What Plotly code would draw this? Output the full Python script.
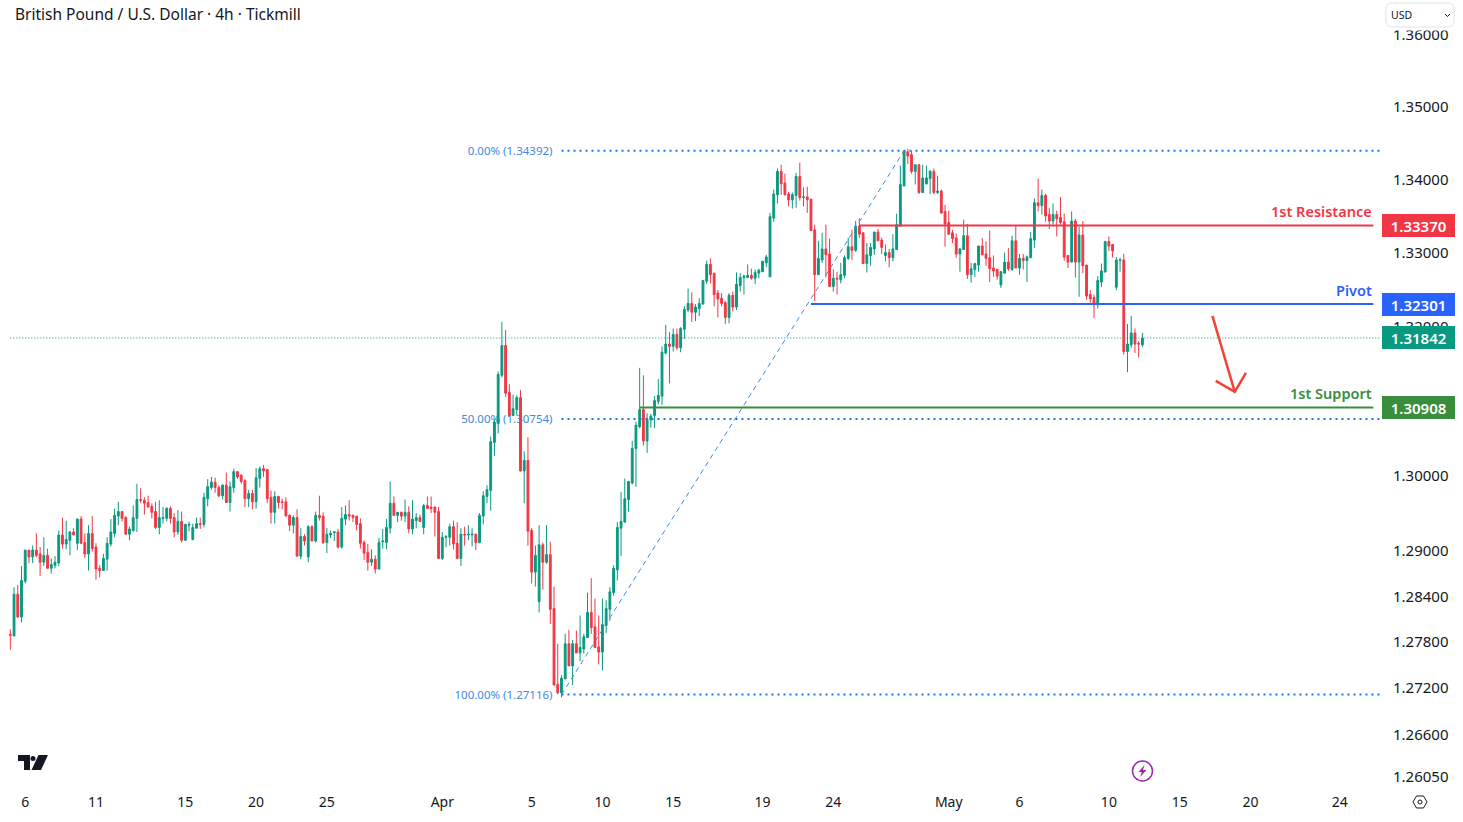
import math
import plotly.graph_objects as go

title = "British Pound / U.S. Dollar · 4h · Tickmill"
opens = [
1.2790,1.2788,1.2843,1.2813,1.2860,1.2901,1.2892,1.2901,1.2896,1.2885,
1.2894,1.2877,1.2881,1.2884,1.2921,1.2909,1.2914,1.2925,1.2910,1.2942,
1.2911,1.2896,1.2923,1.2905,1.2877,1.2874,1.2889,1.2909,1.2923,1.2946,
1.2952,1.2944,1.2922,1.2927,1.2943,1.2968,1.2967,1.2964,1.2959,1.2952,
1.2931,1.2943,1.2943,1.2956,1.2944,1.2925,1.2939,1.2914,1.2934,1.2915,
1.2930,1.2936,1.2935,1.2969,1.2984,1.2991,1.2984,1.2973,1.2987,1.2964,
1.2984,1.3005,1.3000,1.2993,1.2969,1.2976,1.2965,1.2996,1.3009,1.3008,
1.2971,1.2951,1.2972,1.2965,1.2965,1.2947,1.2934,1.2944,1.2893,1.2919,
1.2892,1.2932,1.2913,1.2947,1.2946,1.2911,1.2921,1.2924,1.2925,1.2905,
1.2942,1.2948,1.2947,1.2946,1.2936,1.2911,1.2898,1.2885,1.2889,1.2876,
1.2912,1.2911,1.2930,1.2963,1.2947,1.2951,1.2946,1.2951,1.2929,1.2940,
1.2944,1.2931,1.2960,1.2958,1.2958,1.2952,1.2890,1.2918,1.2918,1.2932,
1.2910,1.2890,1.2922,1.2921,1.2921,1.2922,1.2911,1.2946,1.2972,1.2980,
1.3044,1.3069,1.3134,1.3174,1.3111,1.3080,1.3088,1.3104,1.3006,1.3020,
1.2927,1.2872,1.2833,1.2908,1.2885,1.2895,1.2824,1.2725,1.2714,1.2732,
1.2778,1.2749,1.2778,1.2766,1.2771,1.2786,1.2819,1.2800,1.2774,1.2767,
1.2802,1.2823,1.2845,1.2875,1.2930,1.2938,1.2968,1.2990,1.3036,1.3065,
1.3088,1.3046,1.3074,1.3080,1.3099,1.3106,1.3164,1.3176,1.3173,1.3189,
1.3171,1.3196,1.3222,1.3231,1.3219,1.3224,1.3230,1.3261,1.3284,1.3272,
1.3245,1.3238,1.3232,1.3212,1.3242,1.3226,1.3255,1.3266,1.3266,1.3269,
1.3265,1.3272,1.3274,1.3286,1.3267,1.3347,1.3379,1.3411,1.3395,1.3380,
1.3372,1.3378,1.3404,1.3375,1.3376,1.3373,1.3331,1.3270,1.3290,1.3305,
1.3298,1.3254,1.3265,1.3263,1.3269,1.3292,1.3308,1.3303,1.3336,1.3327,
1.3285,1.3296,1.3305,1.3328,1.3317,1.3296,1.3300,1.3293,1.3304,1.3336,
1.3391,1.3438,1.3434,1.3411,1.3420,1.3382,1.3394,1.3401,1.3411,1.3382,
1.3384,1.3356,1.3341,1.3327,1.3320,1.3298,1.3304,1.3323,1.3270,1.3277,
1.3283,1.3309,1.3298,1.3293,1.3279,1.3277,1.3256,1.3272,1.3287,1.3277,
1.3316,1.3279,1.3292,1.3289,1.3293,1.3317,1.3368,1.3364,1.3378,1.3352,
1.3343,1.3352,1.3348,1.3342,1.3296,1.3287,1.3343,1.3287,1.3324,1.3283,
1.3243,1.3239,1.3229,1.3260,1.3274,1.3315,1.3311,1.3253,1.3289,1.3290,
1.3166,1.3175,1.3191,1.3177,1.3175]
highs = [
1.2797,1.2852,1.2855,1.2880,1.2901,1.2901,1.2907,1.2923,1.2905,1.2918,
1.2903,1.2890,1.2893,1.2927,1.2944,1.2940,1.2926,1.2930,1.2943,1.2946,
1.2923,1.2934,1.2946,1.2910,1.2881,1.2896,1.2918,1.2942,1.2956,1.2965,
1.2952,1.2946,1.2932,1.2960,1.2989,1.2983,1.2971,1.2973,1.2963,1.2965,
1.2967,1.2958,1.2958,1.2959,1.2950,1.2954,1.2952,1.2936,1.2939,1.2936,
1.2944,1.2944,1.2977,1.2995,1.2998,1.2997,1.2987,1.2988,1.3004,1.2992,
1.3009,1.3006,1.3002,1.2995,1.2981,1.2981,1.3010,1.3012,1.3014,1.3008,
1.2980,1.2979,1.2973,1.2969,1.2971,1.2948,1.2947,1.2955,1.2930,1.2922,
1.2934,1.2934,1.2952,1.2973,1.2951,1.2930,1.2927,1.2926,1.2929,1.2958,
1.2960,1.2967,1.2948,1.2946,1.2943,1.2914,1.2909,1.2902,1.2894,1.2917,
1.2929,1.2942,1.2992,1.2972,1.2951,1.2952,1.2968,1.2959,1.2967,1.2950,
1.2948,1.2962,1.2972,1.2972,1.2959,1.2958,1.2925,1.2921,1.2936,1.2940,
1.2938,1.2930,1.2932,1.2934,1.2930,1.2923,1.2950,1.2979,1.2987,1.3052,
1.3075,1.3139,1.3206,1.3195,1.3122,1.3108,1.3107,1.3114,1.3032,1.3051,
1.2930,1.2907,1.2934,1.2911,1.2934,1.2912,1.2853,1.2778,1.2737,1.2791,
1.2796,1.2783,1.2795,1.2815,1.2791,1.2845,1.2864,1.2837,1.2815,1.2837,
1.2835,1.2852,1.2881,1.2938,1.2978,1.2996,1.2992,1.3046,1.3072,1.3144,
1.3134,1.3083,1.3082,1.3106,1.3129,1.3173,1.3202,1.3192,1.3197,1.3197,
1.3199,1.3227,1.3251,1.3246,1.3230,1.3238,1.3262,1.3289,1.3292,1.3272,
1.3249,1.3245,1.3234,1.3245,1.3247,1.3273,1.3272,1.3270,1.3284,1.3278,
1.3277,1.3278,1.3289,1.3297,1.3354,1.3386,1.3415,1.3420,1.3408,1.3383,
1.3382,1.3409,1.3423,1.3389,1.3390,1.3373,1.3338,1.3316,1.3327,1.3338,
1.3319,1.3277,1.3274,1.3286,1.3296,1.3320,1.3331,1.3343,1.3347,1.3327,
1.3313,1.3313,1.3328,1.3332,1.3320,1.3311,1.3305,1.3325,1.3353,1.3419,
1.3439,1.3442,1.3439,1.3421,1.3421,1.3420,1.3419,1.3413,1.3415,1.3405,
1.3386,1.3365,1.3357,1.3331,1.3326,1.3306,1.3345,1.3339,1.3286,1.3286,
1.3309,1.3320,1.3315,1.3330,1.3296,1.3278,1.3275,1.3300,1.3306,1.3323,
1.3337,1.3298,1.3298,1.3296,1.3328,1.3374,1.3401,1.3386,1.3380,1.3361,
1.3367,1.3357,1.3376,1.3353,1.3297,1.3356,1.3346,1.3335,1.3343,1.3283,
1.3249,1.3243,1.3268,1.3285,1.3316,1.3322,1.3311,1.3294,1.3293,1.3298,
1.3203,1.3214,1.3197,1.3180,1.3191]
lows = [
1.2770,1.2788,1.2812,1.2806,1.2857,1.2884,1.2884,1.2892,1.2867,1.2880,
1.2877,1.2870,1.2877,1.2880,1.2903,1.2902,1.2894,1.2921,1.2901,1.2910,
1.2890,1.2874,1.2899,1.2862,1.2865,1.2874,1.2874,1.2906,1.2918,1.2934,
1.2939,1.2922,1.2914,1.2925,1.2925,1.2963,1.2948,1.2958,1.2943,1.2929,
1.2922,1.2936,1.2939,1.2936,1.2918,1.2921,1.2911,1.2913,1.2926,1.2914,
1.2930,1.2929,1.2931,1.2959,1.2981,1.2977,1.2971,1.2968,1.2964,1.2952,
1.2977,1.2995,1.2989,1.2958,1.2958,1.2955,1.2956,1.2984,1.2998,1.2963,
1.2936,1.2936,1.2956,1.2955,1.2946,1.2926,1.2923,1.2893,1.2889,1.2907,
1.2885,1.2913,1.2911,1.2940,1.2909,1.2897,1.2917,1.2913,1.2903,1.2903,
1.2934,1.2940,1.2938,1.2927,1.2903,1.2888,1.2874,1.2880,1.2870,1.2876,
1.2903,1.2902,1.2923,1.2946,1.2938,1.2940,1.2938,1.2923,1.2922,1.2930,
1.2938,1.2922,1.2956,1.2950,1.2919,1.2890,1.2888,1.2905,1.2907,1.2902,
1.2890,1.2880,1.2907,1.2914,1.2906,1.2901,1.2910,1.2935,1.2963,1.2953,
1.3026,1.3056,1.3131,1.3105,1.3079,1.3079,1.3080,1.3005,1.2963,1.2907,
1.2857,1.2853,1.2819,1.2849,1.2883,1.2804,1.2724,1.2712,1.2708,1.2732,
1.2749,1.2724,1.2766,1.2755,1.2765,1.2786,1.2791,1.2773,1.2751,1.2743,
1.2792,1.2808,1.2841,1.2861,1.2893,1.2938,1.2952,1.2988,1.2985,1.3063,
1.3040,1.3030,1.3064,1.3063,1.3095,1.3094,1.3162,1.3123,1.3166,1.3168,
1.3165,1.3183,1.3219,1.3206,1.3207,1.3214,1.3230,1.3257,1.3258,1.3227,
1.3212,1.3227,1.3203,1.3204,1.3220,1.3222,1.3247,1.3243,1.3266,1.3263,
1.3257,1.3265,1.3274,1.3280,1.3267,1.3342,1.3367,1.3379,1.3378,1.3363,
1.3360,1.3361,1.3371,1.3363,1.3354,1.3330,1.3234,1.3270,1.3286,1.3266,
1.3254,1.3247,1.3243,1.3258,1.3265,1.3290,1.3290,1.3301,1.3320,1.3285,
1.3273,1.3282,1.3297,1.3316,1.3298,1.3288,1.3280,1.3288,1.3304,1.3336,
1.3391,1.3421,1.3408,1.3393,1.3380,1.3382,1.3393,1.3380,1.3380,1.3380,
1.3353,1.3308,1.3325,1.3313,1.3293,1.3274,1.3304,1.3264,1.3259,1.3267,
1.3274,1.3297,1.3282,1.3260,1.3267,1.3263,1.3252,1.3272,1.3275,1.3275,
1.3279,1.3270,1.3277,1.3260,1.3293,1.3306,1.3356,1.3352,1.3342,1.3332,
1.3338,1.3322,1.3338,1.3289,1.3279,1.3287,1.3266,1.3240,1.3272,1.3236,
1.3232,1.3211,1.3224,1.3253,1.3272,1.3302,1.3293,1.3249,1.3274,1.3162,
1.3138,1.3171,1.3164,1.3158,1.3172]
closes = [
1.2789,1.2843,1.2813,1.2861,1.2901,1.2892,1.2901,1.2894,1.2885,1.2894,
1.2877,1.2882,1.2885,1.2921,1.2909,1.2915,1.2925,1.2921,1.2942,1.2910,
1.2896,1.2923,1.2903,1.2876,1.2874,1.2890,1.2910,1.2925,1.2947,1.2952,
1.2943,1.2922,1.2929,1.2944,1.2968,1.2967,1.2963,1.2958,1.2951,1.2931,
1.2944,1.2944,1.2956,1.2943,1.2925,1.2939,1.2914,1.2935,1.2935,1.2931,
1.2936,1.2935,1.2971,1.2985,1.2991,1.2984,1.2973,1.2987,1.2964,1.2985,
1.3005,1.2998,1.2992,1.2969,1.2976,1.2965,1.2997,1.3009,1.3006,1.2969,
1.2951,1.2972,1.2964,1.2964,1.2946,1.2934,1.2944,1.2893,1.2919,1.2913,
1.2932,1.2913,1.2947,1.2944,1.2911,1.2922,1.2923,1.2925,1.2905,1.2943,
1.2948,1.2946,1.2944,1.2935,1.2910,1.2897,1.2885,1.2889,1.2876,1.2911,
1.2913,1.2931,1.2963,1.2947,1.2951,1.2946,1.2951,1.2929,1.2942,1.2944,
1.2939,1.2960,1.2956,1.2956,1.2951,1.2890,1.2918,1.2919,1.2932,1.2909,
1.2890,1.2922,1.2921,1.2922,1.2922,1.2911,1.2947,1.2973,1.2981,1.3045,
1.3071,1.3135,1.3174,1.3110,1.3080,1.3089,1.3104,1.3006,1.3020,1.2926,
1.2872,1.2894,1.2908,1.2885,1.2895,1.2823,1.2724,1.2714,1.2733,1.2778,
1.2749,1.2778,1.2766,1.2773,1.2787,1.2819,1.2799,1.2773,1.2767,1.2803,
1.2824,1.2846,1.2877,1.2931,1.2939,1.2969,1.2992,1.3036,1.3067,1.3088,
1.3046,1.3075,1.3079,1.3100,1.3107,1.3165,1.3176,1.3173,1.3189,1.3171,
1.3197,1.3223,1.3231,1.3219,1.3226,1.3231,1.3262,1.3284,1.3270,1.3243,
1.3237,1.3231,1.3212,1.3242,1.3226,1.3257,1.3266,1.3268,1.3269,1.3265,
1.3273,1.3276,1.3288,1.3294,1.3349,1.3380,1.3411,1.3394,1.3379,1.3372,
1.3379,1.3404,1.3375,1.3376,1.3372,1.3330,1.3270,1.3292,1.3305,1.3297,
1.3254,1.3265,1.3264,1.3270,1.3293,1.3308,1.3303,1.3336,1.3325,1.3285,
1.3297,1.3307,1.3328,1.3316,1.3307,1.3300,1.3293,1.3305,1.3338,1.3393,
1.3439,1.3432,1.3411,1.3420,1.3382,1.3402,1.3402,1.3411,1.3382,1.3384,
1.3354,1.3339,1.3325,1.3319,1.3298,1.3305,1.3323,1.3270,1.3278,1.3285,
1.3309,1.3297,1.3292,1.3278,1.3275,1.3268,1.3274,1.3287,1.3278,1.3316,
1.3279,1.3292,1.3289,1.3294,1.3319,1.3368,1.3364,1.3378,1.3350,1.3343,
1.3352,1.3346,1.3341,1.3294,1.3287,1.3343,1.3287,1.3324,1.3282,1.3241,
1.3237,1.3229,1.3262,1.3275,1.3315,1.3309,1.3302,1.3290,1.3290,1.3166,
1.3176,1.3191,1.3176,1.3176,1.31842]
x_tick_positions = [4, 23, 47, 66, 85, 116, 140, 159, 178, 202, 221, 252, 271, 295, 314, 333, 357]
x_tick_labels = ["6", "11", "15", "20", "25", "Apr", "5", "10", "15", "19", "24", "May", "6", "10", "15", "20", "24"]
y_tick_values = [1.36, 1.35, 1.34, 1.33, 1.32, 1.31, 1.30, 1.29, 1.284, 1.278, 1.272, 1.266, 1.2605]
fib_levels = [1.34392, 1.30754, 1.27116]
fib_names = ["0.00%", "50.00%", "100.00%"]
fib_start = 148
fib_peak = 240
resistance, pivot, support, last_price = 1.33370, 1.32301, 1.30908, 1.31842
resistance_start, pivot_start, support_start = 228, 215, 169
level_end = 366
arrow_x = [322.8, 328.8]
arrow_y = [1.32141, 1.31117]
arrow_head_x = [323.7, 328.8, 331.8]
arrow_head_y = [1.31265, 1.31117, 1.31373]

GREEN, RED, BLUE, DKGREEN = "#089981", "#F23645", "#2962FF", "#388E3C"
FIB = "#1E78DC"
FONT = "Noto Sans"
W, H, PW, PH = 1463, 822, 1380, 792
X0, X1 = -2.77, 367.8
Y0, Y1 = 0.09987, 0.13508
indices = list(range(len(opens)))


def px(x):
    return x / PW


def py(y):
    return 1 - y / PH


def poly(points, close=True):
    s = "M" + " L".join(f"{px(a):.5f},{py(b):.5f}" for a, b in points)
    return s + (" Z" if close else "")


fig = go.Figure()
fig.add_trace(go.Candlestick(
    x=indices, open=opens, high=highs, low=lows, close=closes,
    increasing=dict(line=dict(color=GREEN, width=1), fillcolor=GREEN),
    decreasing=dict(line=dict(color=RED, width=1), fillcolor=RED),
    whiskerwidth=0, hoverinfo="skip", showlegend=False))


def line(xs, ys, color, width=1.5, dash="solid"):
    fig.add_trace(go.Scatter(x=xs, y=ys, mode="lines", showlegend=False, hoverinfo="skip",
                             line=dict(color=color, width=width, dash=dash)))


line([0, X1], [last_price, last_price], GREEN, 1, "1px 2px")
for lv in fib_levels:
    line([fib_start, X1], [lv, lv], FIB, 2, "2px 4px")
line([fib_start, fib_peak], [fib_levels[2], fib_levels[0]], "#3D8BE0", 1, "5px 4px")
line([resistance_start, level_end], [resistance, resistance], RED, 2)
line([pivot_start, level_end], [pivot, pivot], BLUE, 2)
line([support_start, level_end], [support, support], DKGREEN, 2)
line(arrow_x, arrow_y, "#F44336", 2.5)
line(arrow_head_x, arrow_head_y, "#F44336", 2.5)

shapes = []
for lv, nm in zip(fib_levels, fib_names):
    shapes.append(dict(type="line", xref="x", yref="y", x0=fib_start - 30, x1=fib_start - 2.4, y0=lv, y1=lv,
                       layer="below", line=dict(width=0, color="rgba(0,0,0,0)"),
                       label=dict(text=f"{nm} ({lv:.5f})", textposition="end", xanchor="right", yanchor="middle",
                                  padding=0, font=dict(family=FONT, size=11.5, color="#3F88DE"))))
# white band under the currency box
shapes.append(dict(type="rect", xref="paper", yref="paper", layer="above", fillcolor="white", line=dict(width=0),
                   x0=px(1384), x1=px(1460), y0=py(30.5), y1=py(0)))
# USD box
r = 6
bx0, bx1, by0, by1 = 1386, 1454, 3, 27
shapes.append(dict(type="path", xref="paper", yref="paper", layer="above", fillcolor="white",
                   line=dict(color="#E0E3EB", width=1),
                   path=(f"M{px(bx0+r):.5f},{py(by0):.5f} L{px(bx1-r):.5f},{py(by0):.5f} "
                         f"Q{px(bx1):.5f},{py(by0):.5f} {px(bx1):.5f},{py(by0+r):.5f} "
                         f"L{px(bx1):.5f},{py(by1-r):.5f} Q{px(bx1):.5f},{py(by1):.5f} {px(bx1-r):.5f},{py(by1):.5f} "
                         f"L{px(bx0+r):.5f},{py(by1):.5f} Q{px(bx0):.5f},{py(by1):.5f} {px(bx0):.5f},{py(by1-r):.5f} "
                         f"L{px(bx0):.5f},{py(by0+r):.5f} Q{px(bx0):.5f},{py(by0):.5f} {px(bx0+r):.5f},{py(by0):.5f} Z")))
shapes.append(dict(type="path", xref="paper", yref="paper", layer="above", line=dict(color="#131722", width=1),
                   path=poly([(1445, 14), (1447.5, 16.5), (1450, 14)], False)))
# logo
for pts in ([(18, 755), (30, 755), (30, 770), (24, 770), (24, 761), (18, 761)],
            [(38.5, 755), (48, 755), (41, 770), (31.5, 770)]):
    shapes.append(dict(type="path", xref="paper", yref="paper", layer="above", fillcolor="#131722",
                       line=dict(width=0), path=poly(pts)))
shapes.append(dict(type="circle", xref="paper", yref="paper", layer="above", fillcolor="#131722", line=dict(width=0),
                   x0=px(30.5), x1=px(35.5), y0=py(761), y1=py(756)))
# bolt icon
shapes.append(dict(type="circle", xref="paper", yref="paper", layer="above", line=dict(color="#9C27B0", width=1.5),
                   fillcolor="white", x0=px(1132.5), x1=px(1152.5), y0=py(781), y1=py(761)))
shapes.append(dict(type="path", xref="paper", yref="paper", layer="above", fillcolor="#9C27B0", line=dict(width=0),
                   path=poly([(1144.5, 765), (1138.5, 772), (1141.8, 772), (1140.2, 777), (1146.5, 770), (1143, 770)])))
# settings icon
shapes.append(dict(type="path", xref="paper", yref="paper", layer="above", line=dict(color="#131722", width=1),
                   path=poly([(1413, 802), (1416.5, 796), (1423.5, 796), (1427, 802), (1423.5, 808), (1416.5, 808)])))
shapes.append(dict(type="circle", xref="paper", yref="paper", layer="above", line=dict(color="#131722", width=1),
                   x0=px(1418), x1=px(1422), y0=py(804), y1=py(800)))

anns = [dict(text=title, xref="paper", yref="paper", x=px(14), y=py(14), xanchor="left", yanchor="middle",
             showarrow=False, borderpad=0, font=dict(family=FONT, size=15.5, color="#131722")),
        dict(text="USD", xref="paper", yref="paper", x=px(1388.5), y=py(15), xanchor="left", yanchor="middle",
             showarrow=False, font=dict(family=FONT, size=10.5, color="#131722"))]
for val, col in [(resistance, RED), (pivot, BLUE), (last_price, GREEN), (support, DKGREEN)]:
    anns.append(dict(text=val and f"{val:.5f}", xref="paper", yref="y", x=px(1418.5), y=math.log10(val),
                     xanchor="center", yanchor="middle", showarrow=False, width=73, height=23, bgcolor=col,
                     borderpad=0, borderwidth=0, font=dict(family=FONT, size=15, weight=600, color="white")))
for txt, val, col in [("1st Resistance", resistance, RED), ("Pivot", pivot, BLUE), ("1st Support", support, DKGREEN)]:
    anns.append(dict(text=txt, xref="x", yref="y", x=level_end, y=math.log10(val), xanchor="right",
                     yanchor="bottom", yshift=3, showarrow=False, borderpad=0,
                     font=dict(family=FONT, size=14.5, weight=600, color=col)))

fig.update_layout(
    width=W, height=H, paper_bgcolor="white", plot_bgcolor="white", showlegend=False,
    margin=dict(l=0, r=W - PW, t=0, b=H - PH, autoexpand=False),
    shapes=shapes, annotations=anns, hovermode=False,
    xaxis=dict(range=[X0, X1], rangeslider=dict(visible=False), showgrid=False, zeroline=False, showline=False,
               ticks="", tickmode="array", tickvals=x_tick_positions, ticktext=x_tick_labels,
               tickfont=dict(family=FONT, size=14, color="#131722")),
    yaxis=dict(type="log", range=[Y0, Y1], side="right", showgrid=False, zeroline=False, showline=False, ticks="",
               tickmode="array", tickvals=y_tick_values, ticktext=[f"{v:.5f}" for v in y_tick_values],
               ticklabelstandoff=12, tickfont=dict(family=FONT, size=15, color="#131722")),
)
fig.write_html("out.html", config=dict(displayModeBar=False),
               post_script="document.body.style.margin='0';document.body.style.overflow='hidden';")
